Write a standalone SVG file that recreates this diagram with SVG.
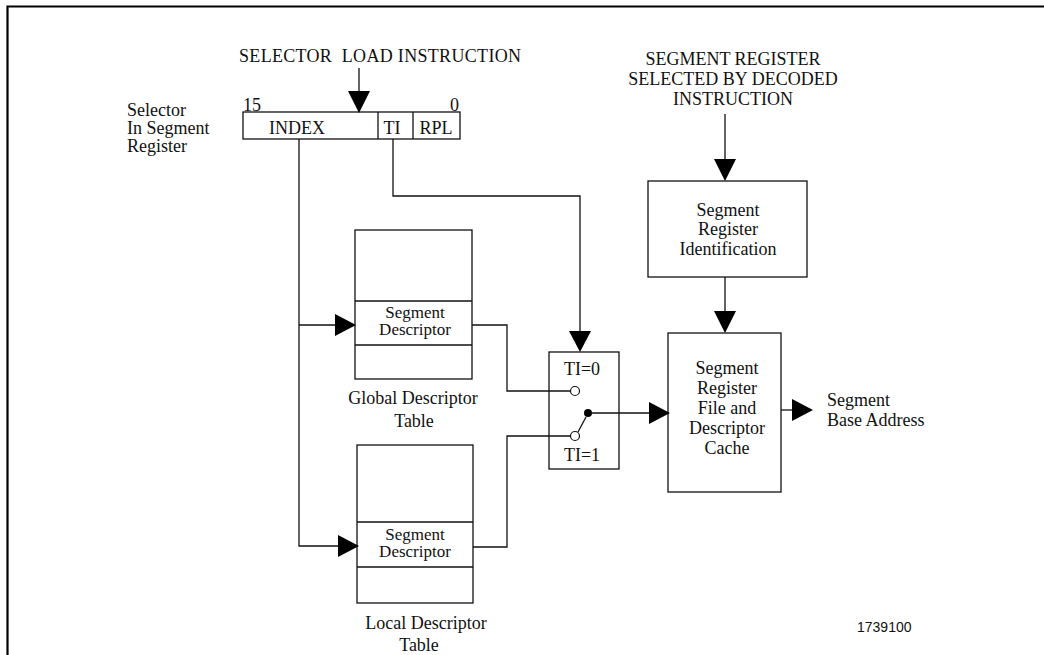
<svg xmlns="http://www.w3.org/2000/svg" width="1044" height="655" viewBox="0 0 1044 655">
<style>
text{font-family:"Liberation Serif","Times New Roman",serif;font-size:18px;fill:#111}
.c{text-anchor:middle}
.s{font-size:17px}
.box{fill:none;stroke:#111;stroke-width:1.3}
.ln{fill:none;stroke:#111;stroke-width:1.3}
.ah{fill:#000}
</style>
<rect width="1044" height="655" fill="#fff"/>
<path d="M7.5 655 V6.5 H1044" fill="none" stroke="#000" stroke-width="2.2"/>

<g id="label-selector-load">
<text x="239" y="62" textLength="282">SELECTOR&#160; LOAD INSTRUCTION</text>
</g>
<g id="label-segreg-selected">
<text class="c" x="733" y="65">SEGMENT REGISTER</text>
<text class="c" x="733" y="85">SELECTED BY DECODED</text>
<text class="c" x="733" y="105">INSTRUCTION</text>
</g>
<g id="label-selector">
<text x="127" y="116">Selector</text>
<text x="127" y="134">In Segment</text>
<text x="127" y="152">Register</text>
</g>
<g id="selector-register">
<text x="243" y="111">15</text>
<text x="459" y="111" text-anchor="end">0</text>
<rect class="box" x="243" y="112" width="217" height="27"/>
<line class="ln" x1="378" y1="112" x2="378" y2="139"/>
<line class="ln" x1="413" y1="112" x2="413" y2="139"/>
<text class="c" x="297" y="134">INDEX</text>
<text class="c" x="392" y="134">TI</text>
<text class="c" x="436" y="134">RPL</text>
</g>
<g id="gdt">
<rect class="box" x="355" y="230" width="117" height="149"/>
<line class="ln" x1="355" y1="301" x2="472" y2="301"/>
<line class="ln" x1="355" y1="345" x2="472" y2="345"/>
<text class="c s" x="415" y="318">Segment</text>
<text class="c s" x="415" y="335">Descriptor</text>
<text class="c" x="413" y="404">Global Descriptor</text>
<text class="c" x="414" y="427">Table</text>
</g>
<g id="ldt">
<rect class="box" x="357" y="445" width="116" height="158"/>
<line class="ln" x1="357" y1="522" x2="473" y2="522"/>
<line class="ln" x1="357" y1="567" x2="473" y2="567"/>
<text class="c s" x="415" y="540">Segment</text>
<text class="c s" x="415" y="557">Descriptor</text>
<text class="c" x="426" y="629">Local Descriptor</text>
<text class="c" x="419" y="651">Table</text>
</g>
<g id="switch">
<rect class="box" x="549" y="352" width="70" height="117"/>
<text class="c" x="582" y="375">TI=0</text>
<text class="c" x="582" y="461">TI=1</text>
<circle cx="575" cy="391" r="4.5" fill="#fff" stroke="#111" stroke-width="1.2"/>
<circle cx="575" cy="436" r="4.5" fill="#fff" stroke="#111" stroke-width="1.2"/>
<line class="ln" x1="578" y1="432" x2="586" y2="417"/>
<circle cx="588" cy="413" r="4" fill="#000"/>
</g>
<g id="segreg-id">
<rect class="box" x="648" y="181" width="159" height="96"/>
<text class="c" x="728" y="216">Segment</text>
<text class="c" x="728" y="235">Register</text>
<text class="c" x="728" y="255">Identification</text>
</g>
<g id="segreg-file">
<rect class="box" x="668" y="333" width="113" height="159"/>
<text class="c" x="727" y="374">Segment</text>
<text class="c" x="727" y="394">Register</text>
<text class="c" x="727" y="414">File and</text>
<text class="c" x="727" y="434">Descriptor</text>
<text class="c" x="727" y="454">Cache</text>
</g>
<g id="label-base">
<text x="827" y="406">Segment</text>
<text x="827" y="426">Base Address</text>
</g>
<g id="figno">
<text x="857" y="632" style="font-family:'Liberation Sans',Arial,sans-serif;font-size:14px">1739100</text>
</g>

<g id="connectors">
<line class="ln" x1="359" y1="68" x2="359" y2="92"/>
<polygon class="ah" points="348,91 370,91 359,113"/>
<path class="ln" d="M299 139 V546 H340"/>
<path class="ln" d="M299 325 H337"/>
<polygon class="ah" points="335,314 335,336 356,325"/>
<polygon class="ah" points="338,535 338,557 359,546"/>
<path class="ln" d="M393 139 V196 H580 V333"/>
<polygon class="ah" points="569,331 591,331 580,352"/>
<path class="ln" d="M472 325 H507 V391 H570.5"/>
<path class="ln" d="M473 547 H507 V436 H570.5"/>
<line class="ln" x1="592" y1="413" x2="650" y2="413"/>
<polygon class="ah" points="649,402 649,424 670,413"/>
<line class="ln" x1="725" y1="114" x2="725" y2="160"/>
<polygon class="ah" points="714,159 736,159 725,181"/>
<line class="ln" x1="725" y1="277" x2="725" y2="312"/>
<polygon class="ah" points="714,311 736,311 725,333"/>
<line class="ln" x1="781" y1="410" x2="793" y2="410"/>
<polygon class="ah" points="792,399 792,421 813,410"/>
</g>
</svg>
